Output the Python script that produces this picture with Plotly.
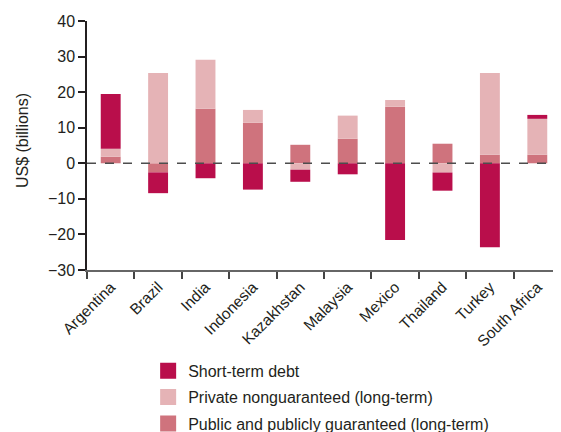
import plotly.graph_objects as go

countries = ["Argentina", "Brazil", "India", "Indonesia", "Kazakhstan",
             "Malaysia", "Mexico", "Thailand", "Turkey", "South Africa"]
public_guaranteed = [1.85, -2.55, 15.3, 11.4, 5.2, 6.9, 15.9, 5.5, 2.4, 2.4]
private_nonguaranteed = [2.25, 25.4, 13.8, 3.6, -1.8, 6.5, 1.9, -2.6, 23.0, 10.1]
short_term = [15.4, -5.85, -4.2, -7.4, -3.4, -3.1, -21.6, -5.1, -23.6, 1.1]

c_public = "rgb(207,115,125)"
c_private = "rgb(229,179,182)"
c_short = "rgb(185,14,75)"

# stacking order (bottom → top / 0 → negative)
series = [
    ("Public and publicly guaranteed (long-term)", public_guaranteed, c_public),
    ("Private nonguaranteed (long-term)", private_nonguaranteed, c_private),
    ("Short-term debt", short_term, c_short),
]

font_family = "Liberation Sans, Arial, sans-serif"
text_color = "#231f20"

fig = go.Figure()
for name, vals, col in series:
    fig.add_trace(go.Bar(x=countries, y=vals, name=name, showlegend=False,
                         marker=dict(color=col, line=dict(width=0)), width=0.42))
# legend entries (top → bottom) with larger square swatches
for i, (name, vals, col) in enumerate(reversed(series)):
    fig.add_trace(go.Scatter(x=[None], y=[None], name=name, mode="markers",
                             legendgroup="g%d" % i,
                             marker=dict(symbol="square", size=17, color=col)))

fig.add_shape(type="line", xref="paper", yref="y", x0=0, x1=1, y0=0, y1=0,
              line=dict(color="#4d4d4d", width=1.6, dash="dash"), layer="above")

fig.add_annotation(text="US$ (billions)", xref="paper", yref="paper",
                   x=-0.137, y=0.518, xanchor="center", yanchor="middle",
                   textangle=-90, showarrow=False,
                   font=dict(size=16, color=text_color))

fig.update_layout(
    barmode="relative",
    width=561, height=432,
    margin=dict(l=79, r=8, t=13, b=170, autoexpand=False),
    paper_bgcolor="white", plot_bgcolor="white",
    font=dict(family=font_family, color=text_color, size=16),
    showlegend=True,
    legend=dict(traceorder="grouped", orientation="v",
                x=0.129, xanchor="left", y=-0.337, yanchor="top",
                font=dict(size=16, color=text_color), itemsizing="trace",
                tracegroupgap=2.5, bgcolor="rgba(0,0,0,0)"),
    xaxis=dict(showgrid=False, zeroline=False, showline=True, linecolor="#666666", linewidth=2,
               ticks="outside", tickson="boundaries", ticklen=7, tickcolor="#444444", tickwidth=1.5,
               tickangle=-45, tickfont=dict(size=15.5), range=[-0.5, 9.5], automargin=False),
    yaxis=dict(range=[-30, 40], dtick=10, showgrid=False, zeroline=False, showline=True,
               linecolor="#231f20", linewidth=1.5, ticks="outside", ticklen=7, tickcolor="#231f20",
               tickwidth=1.5, tickfont=dict(size=16), automargin=False),
)

fig.write_html("out.html")
